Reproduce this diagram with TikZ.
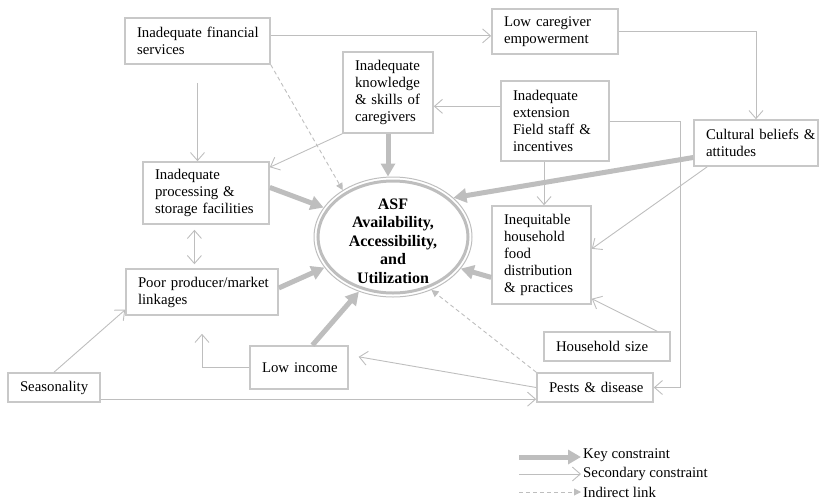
\documentclass[tikz,border=0pt]{standalone}
\usepackage{fontspec}
\setmainfont{Liberation Serif}
\usepackage{tikz}
\usetikzlibrary{shapes,shapes.geometric}
\usetikzlibrary{positioning,arrows.meta}
\definecolor{boxgray}{RGB}{200,200,200}
\definecolor{arrowgray}{RGB}{190,190,190}
\tikzset{
factor/.style={draw=boxgray,line width=1.6pt,align=left,inner xsep=12pt,inner ysep=3pt,font=\fontsize{14.8}{17}\selectfont,
  execute at begin node={\rightskip=0pt plus 1fil minus 100pt\hyphenpenalty=10000\exhyphenpenalty=10000}},
asfring/.style={ellipse,draw=arrowgray,line width=1pt,minimum width=158pt,minimum height=120pt,inner sep=0pt},
asflabel/.style={align=center,yshift=-4pt,font=\bfseries\fontsize{16}{18.5}\selectfont},
keyarrow/.style={draw=arrowgray,line width=5pt,-{Triangle[length=13pt,width=14pt]}},
secarrow/.style={draw=arrowgray,line width=0.9pt,>={Straight Barb[length=8pt,width=14pt]},->},
indarrow/.style={draw=arrowgray,line width=0.9pt,dash pattern=on 4pt off 3pt,-{Triangle[length=7pt,width=7pt]}},
legendtext/.style={anchor=west,inner xsep=2pt,font=\fontsize{14.8}{17}\selectfont}
}
\begin{document}
\begin{tikzpicture}[x=1pt,y=-1pt]\begin{scope}
\useasboundingbox (0,0) rectangle (820,499);
\node[factor,text width=121pt,minimum height=46pt] (fin) at (197.5,41) {Inadequate financial\\services};
\node[factor,text width=66pt,minimum height=81pt] (know) at (388,92.5) {Inadequate\\knowledge\\\& skills of\\caregivers};
\node[factor,text width=102pt,minimum height=62pt] (proc) at (206,193) {Inadequate\\processing \&\\storage facilities};
\node[factor,text width=128pt,minimum height=46pt] (poor) at (202,292) {Poor producer/market\\linkages};
\node[factor,text width=74pt,minimum height=43pt] (low) at (299,367.5) {Low income};
\node[factor,text width=68pt,minimum height=29pt] (seas) at (54,387.5) {Seasonality};
\node[factor,text width=102pt,minimum height=45pt] (emp) at (555,31.5) {Low caregiver\\empowerment};
\node[factor,text width=84pt,minimum height=80pt] (ext) at (555,121) {Inadequate\\extension\\Field staff \&\\incentives};
\node[factor,text width=100pt,minimum height=46pt] (cult) at (756,143) {Cultural beliefs \&\\attitudes};
\node[factor,text width=75pt,minimum height=98pt] (ineq) at (541.5,255) {Inequitable\\household\\food\\distribution\\\& practices};
\node[factor,text width=102pt,minimum height=29pt] (hh) at (607,346.5) {Household size};
\node[factor,text width=92pt,minimum height=29pt] (pests) at (595,387.5) {Pests \& disease};
\node[asfring,label={[asflabel]center:ASF\\Availability,\\Accessibility,\\and\\Utilization}] (asf) at (393,237) {};
\draw[arrowgray,line width=3pt] (asf.center) ellipse (75 and 56);
\draw[keyarrow] (know) -- (know |- asf.north);
\draw[keyarrow] (proc.5) -- (asf.157);
\draw[keyarrow] (poor.3) -- (asf.204);
\draw[keyarrow] (low.59) -- (asf.238);
\draw[keyarrow] (cult.193) -- (asf.33);
\draw[keyarrow] (ineq.204) -- (asf.335);
\draw[secarrow] (fin.4) -- (fin.4 -| emp.west);
\draw[secarrow,shorten <=18pt] (fin.south) -- (fin.south |- proc.north);
\draw[secarrow] (emp.east) -| (cult.north);
\draw[secarrow] (ext.165) -- (ext.165 -| know.east);
\draw[secarrow] (know.south west) -- (proc.22);
\draw[secarrow] (ext.255) -- (ext.255 |- ineq.north);
\draw[secarrow] (ext.east) -- ++(71,0) |- (pests.east);
\draw[secarrow] (cult.206) -- (ineq.7);
\draw[secarrow] (hh.17) -- (ineq.319);
\draw[secarrow,shorten >=10pt] (pests.west) -- (low.14);
\draw[secarrow] (seas.-14) -- (seas.-14 -| pests.west);
\draw[secarrow] (seas.north) -- (poor.193);
\draw[secarrow,shorten >=18pt] (low.west) -| (poor.south);
\draw[secarrow,<->,shorten <=5pt,shorten >=4pt] (proc.250) -- (proc.250 |- poor.north);
\draw[indarrow] (fin.south east) -- (asf.137);
\draw[indarrow] (pests.north west) -- (asf.306);
\coordinate (keyleft) at (519,457);
\coordinate (secleft) at (519,474);
\coordinate (indleft) at (519,492);
\node[legendtext] (keylab) at (581,455) {Key constraint};
\node[legendtext] (seclab) at (581,474) {Secondary constraint};
\node[legendtext] (indlab) at (581,492) {Indirect link};
\draw[keyarrow] (keyleft) -- (keyleft -| keylab.west);
\draw[secarrow] (secleft) -- (seclab.west);
\draw[indarrow] (indleft) -- (indlab.west);
\end{scope}\end{tikzpicture}
\end{document}
